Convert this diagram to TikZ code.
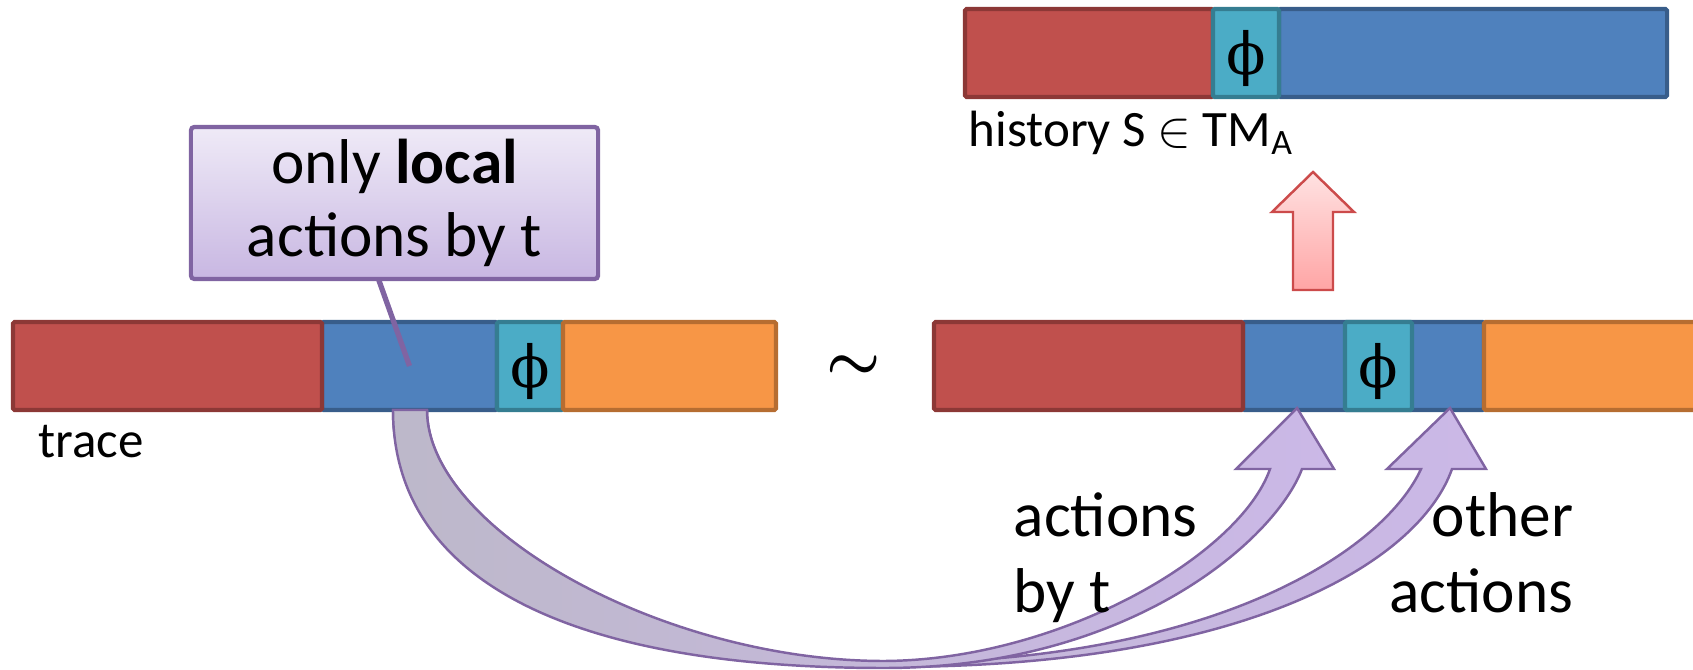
\documentclass[tikz,border=0pt]{standalone}
\usepackage{fontspec}
\setmainfont{Carlito}
\newfontfamily\phifont{DejaVu Serif}
\definecolor{cRed}{HTML}{C0504D}
\definecolor{cRedD}{HTML}{8C3836}
\definecolor{cBlue}{HTML}{4F81BD}
\definecolor{cBlueD}{HTML}{385D8A}
\definecolor{cCyan}{HTML}{4BACC6}
\definecolor{cCyanD}{HTML}{357D91}
\definecolor{cOrange}{HTML}{F79646}
\definecolor{cOrangeD}{HTML}{B66D31}
\definecolor{cPurple}{HTML}{8064A2}
\definecolor{cArrowL}{HTML}{BDB8CA}
\definecolor{cArrowR}{HTML}{CBB8E7}
\definecolor{cBoxTop}{HTML}{EFEAF7}
\definecolor{cBoxBot}{HTML}{C8B7E2}
\definecolor{cPinkTop}{HTML}{FFE2E2}
\definecolor{cPinkBot}{HTML}{FFA5A5}
\definecolor{cPinkLine}{HTML}{CC4B4B}
\begin{document}
\begin{tikzpicture}[x=0.01cm,y=-0.01cm,
  seg/.style={draw, line width=1.2pt, inner sep=0pt, minimum height=0.88cm, rounded corners=0.5pt},
  redseg/.style={seg, fill=cRed, draw=cRedD},
  blueseg/.style={seg, fill=cBlue, draw=cBlueD},
  cyanseg/.style={seg, fill=cCyan, draw=cCyanD},
  orangeseg/.style={seg, fill=cOrange, draw=cOrangeD},
  phisym/.style={font=\phifont\fontsize{16.5}{20}\selectfont, inner sep=0pt},
  biglbl/.style={font=\fontsize{18}{21.6}\selectfont, inner sep=0pt},
  smalllbl/.style={font=\fontsize{14.5}{17}\selectfont, inner sep=0pt, anchor=base west},
  callout/.style={draw=cPurple, line width=1.2pt, rounded corners=1pt, top color=cBoxTop, bottom color=cBoxBot, inner sep=0pt, align=center, font=\fontsize{18}{20.8}\selectfont},
  pointer/.style={draw=cPurple, line width=1.5pt},
  curvearrow/.style={draw=cPurple, line width=0.7pt, left color=cArrowL, right color=cArrowR, line join=miter},
  blockarrow/.style={draw=cPinkLine, line width=0.7pt, top color=cPinkTop, bottom color=cPinkBot},
]
\useasboundingbox (0,0) rectangle (1693,670);
\begin{scope}
\clip (0,0) rectangle (1693,670);

% top bar: history
\node[blueseg, minimum width=3.88cm] (tb) at (1473,53) {};
\node[redseg, minimum width=2.48cm] (tr) at (1089,53) {};
\node[cyanseg, minimum width=0.66cm] (tc) at (1246,53) {};
\node[phisym] (tphi) at (1246,58) {ϕ};
\node[smalllbl] (hist) at (968,147) {history S $\in$ TM\textsubscript{A}};

% left bar: trace
\node[blueseg, minimum width=1.75cm] (lb) at (409.5,366) {};
\node[redseg, minimum width=3.09cm] (lr) at (167.5,366) {};
\node[cyanseg, minimum width=0.66cm] (lc) at (530,366) {};
\node[orangeseg, minimum width=2.13cm] (lo) at (669.5,366) {};
\node[phisym] (lphi) at (530,371) {ϕ};
\node[smalllbl] (trace) at (38,458) {trace};

% right bar
\node[blueseg, minimum width=2.41cm] (rb) at (1363.5,366) {};
\node[redseg, minimum width=3.09cm] (rr) at (1088.5,366) {};
\node[cyanseg, minimum width=0.67cm] (rc) at (1378.5,366) {};
\node[orangeseg, minimum width=2.30cm] (ro) at (1599,366) {};
\node[phisym] (rphi) at (1378.5,371) {ϕ};

% equivalence
\node[font=\fontsize{18}{20}\selectfont\boldmath, inner sep=0pt] (sim) at (853.5,368) {$\sim$};

% callout
\coordinate (ptrtop) at (377,275);
\draw[pointer] (ptrtop) -- (lb.center);
\node[callout, minimum width=4.07cm, minimum height=1.52cm] (box) at (394.5,203) {only \textbf{local}\\actions by t};

% red block arrow
\draw[blockarrow] (1293,290) -- (1293,212) -- (1272,212) -- (1313,172) -- (1354,212) -- (1333,212) -- (1333,290) -- cycle;

% curved arrows
\coordinate (cstartO) at (393,410);
\coordinate (cstartI) at (427,410);
\draw[curvearrow] (cstartO) .. controls (392,565) and (590,667) .. (884,667)
  .. controls (1250,668) and (1420,560) .. (1452,469)
  -- (1486,469) -- (1450,408) -- (1387,469) -- (1421,469)
  .. controls (1385,548) and (1220,663) .. (884,663)
  .. controls (665,662) and (427,530) .. (cstartI) -- cycle;
\draw[curvearrow] (cstartO) .. controls (393,578) and (565,668) .. (884,668)
  .. controls (1130,668) and (1275,540) .. (1302,469)
  -- (1334,469) -- (1297,408) -- (1236,469) -- (1270,469)
  .. controls (1240,555) and (1060,660) .. (884,661)
  .. controls (665,661) and (427,530) .. (cstartI) -- cycle;

% labels
\node[biglbl, anchor=base west] (abt1) at (1013,537) {actions};
\node[biglbl, anchor=base west] (abt2) at (1013,613) {by t};
\node[biglbl, anchor=base east] (oa1) at (1574,537) {other};
\node[biglbl, anchor=base east] (oa2) at (1574,613) {actions};
\end{scope}
\end{tikzpicture}
\end{document}
